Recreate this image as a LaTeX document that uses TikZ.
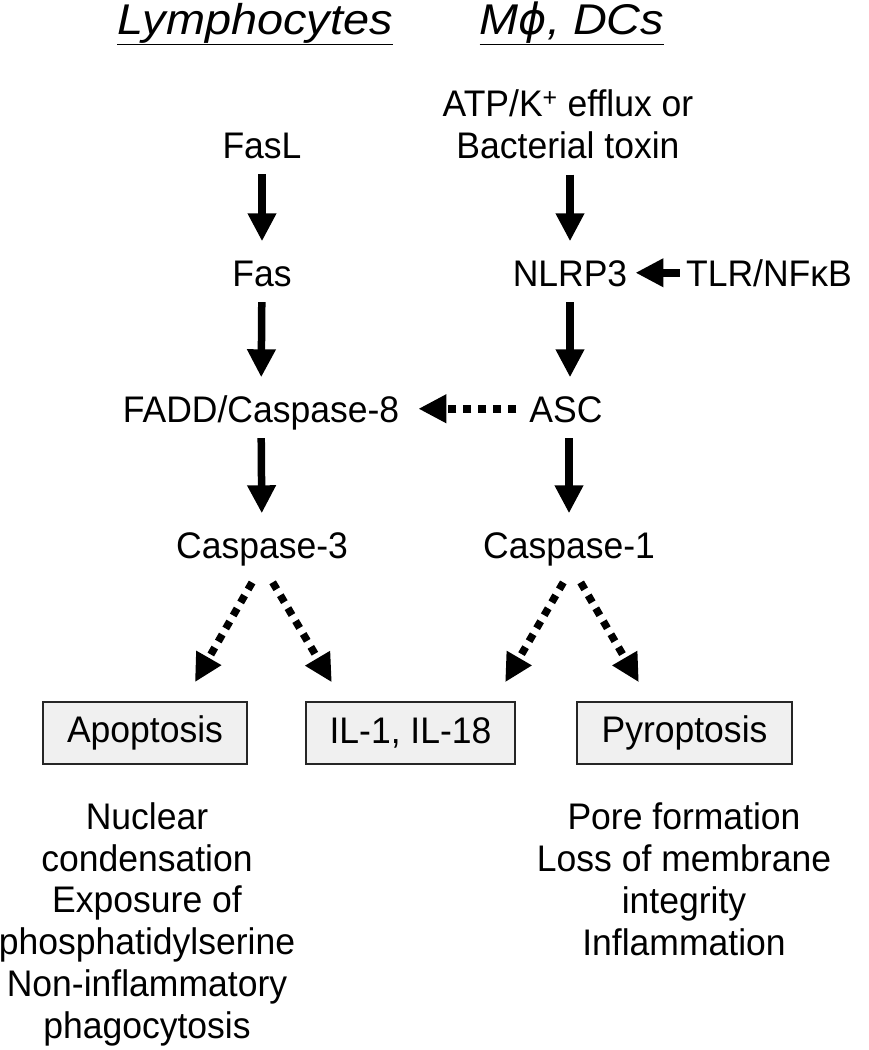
\documentclass[tikz,border=0pt]{standalone}
\usepackage{fontspec}
\setmainfont{Liberation Sans}[FakeStretch=0.96]
\newfontfamily\titlefont{Liberation Sans}[FakeStretch=1.09]
\newfontfamily\phifont{DejaVu Sans}
\usetikzlibrary{arrows.meta}
\tikzset{>=latex}

\begin{document}
\begin{tikzpicture}[x=1pt,y=-1pt]
			\tikzset{arr/.style = {-{Triangle[length=28pt,width=27pt]}, line width=7.5pt, shorten <=16pt, shorten >=18pt}}
			\tikzset{dotarr/.style = {arr, dash pattern=on 8pt off 7pt}}
			\tikzset{lbl/.style = {inner sep=0pt, text height=26.5pt, text depth=0pt, anchor=base}}
			\tikzset{cell/.style = {draw=black!85, line width=1.5pt, fill=black!6, inner sep=0pt, minimum height=62pt}}
			\tikzset{note/.style = {inner sep=0pt, align=center, anchor=base, font=\fontsize{37}{41.7}\selectfont}}
			\tikzset{head/.style = {inner sep=0pt, anchor=base, font=\titlefont\fontsize{43}{48}\selectfont}}

			\useasboundingbox (0,0) rectangle (868,1050);

			\node[head] (lym) at (255,34) {\underline{\itshape Lymphocytes}};
			\node[head] (mdc) at (572,34) {\underline{\itshape M{\phifont\itshape ϕ}, DCs}};

			\fontsize{37}{42}\selectfont

			% base of a two-line node is its last line
			\node[inner sep=0pt, align=center, anchor=base] (atp) at (568,158) {ATP/K\textsuperscript{+} efflux or\\Bacterial toxin};
			\node[lbl] (fasl) at (262,158) {FasL};
			\node[lbl] (fas) at (262,286) {Fas};
			\node[lbl] (nlrp) at (570,286) {NLRP3};
			\node[lbl] (tlr) at (769,286) {TLR/NFκB};
			\node[lbl] (fadd) at (261,422) {FADD/Caspase-8};
			\node[lbl] (asc) at (566,422) {ASC};
			\node[lbl] (casp3) at (262,558) {Caspase-3};
			\node[lbl] (casp1) at (569,558) {Caspase-1};

			\node[cell, minimum width=204pt] (apop) at (145,733) {Apoptosis};
			\node[cell, minimum width=209pt] (il) at (410.5,733) {IL-1, IL-18};
			\node[cell, minimum width=215pt] (pyro) at (684.5,733) {Pyroptosis};

			\node[note] (apopnote) at (147,1038) {Nuclear\\condensation\\Exposure of\\phosphatidylserine\\Non-inflammatory\\phagocytosis};
			\node[note] (pyronote) at (684,955) {Pore formation\\Loss of membrane\\integrity\\Inflammation};

			% solid steps
			\draw[arr] (fasl) -- (fas);
			\draw[arr] (fas) -- (fadd);
			\draw[arr] (fadd) -- (casp3);
			\draw[arr] (atp.south -| nlrp) -- (nlrp);
			\draw[arr] (nlrp) -- (asc.north -| nlrp);
			\draw[arr] (asc.south -| casp1) -- (casp1);
			\draw[arr, shorten <=6pt, shorten >=8pt] (tlr) -- (nlrp);

			% dotted steps
			\draw[dotarr, shorten <=13pt, shorten >=19pt] (asc) -- (fadd);
			\draw[dotarr, shorten <=28pt, shorten >=22pt] ([xshift=4pt]casp3.south) -- ([xshift=39pt]apop.north);
			\draw[dotarr, shorten <=28pt, shorten >=22pt] ([xshift=-3.6pt]casp3.south) -- ([xshift=-67.5pt]il.north);
			\draw[dotarr, shorten <=28pt, shorten >=22pt] ([xshift=8.4pt]casp1.south) -- ([xshift=83.6pt]il.north);
			\draw[dotarr, shorten <=28pt, shorten >=22pt] ([xshift=-2.4pt]casp1.south) -- ([xshift=-34.6pt]pyro.north);
		\end{tikzpicture}
\end{document}
